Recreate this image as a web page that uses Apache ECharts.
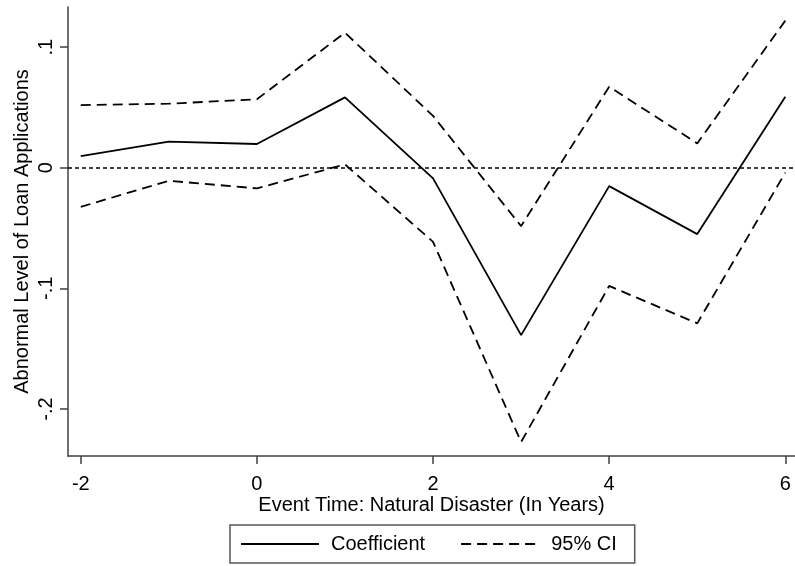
<!DOCTYPE html>
<html>
<head>
<meta charset="utf-8">
<script src="https://cdn.jsdelivr.net/npm/echarts@6/dist/echarts.min.js"></script>
<style>html,body{margin:0;padding:0;background:#fff}#c{width:795px;height:566px}</style>
</head>
<body>
<div id="c"></div>
<script>
var eventTime = [-2, -1, 0, 1, 2, 3, 4, 5, 6];
var coefficient = [0.0097, 0.0216, 0.0197, 0.0584, -0.0088, -0.1388, -0.0152, -0.055, 0.0589];
var upperCI = [0.052, 0.0531, 0.0568, 0.112, 0.043, -0.0484, 0.0672, 0.0202, 0.122];
var lowerCI = [-0.0324, -0.0108, -0.0171, 0.0028, -0.0614, -0.2274, -0.098, -0.129, -0.004];
var xTicks = [-2, 0, 2, 4, 6];
var yTicks = [-0.2, -0.1, 0, 0.1];

function pairs(ys) { return eventTime.map(function (x, i) { return [x, ys[i]]; }); }
function fmtY(v) {
  var r = Math.round(v * 10) / 10;
  if (r === 0) return '0';
  var s = String(r);
  return s.replace('0.', '.');
}
var FONT = 'Liberation Sans, Arial, sans-serif';
var chart = echarts.init(document.getElementById('c'), null, {renderer: 'canvas'});
chart.setOption({
  animation: false,
  backgroundColor: '#fff',
  textStyle: {fontFamily: FONT, color: '#000'},
  grid: {left: 68, right: 0, top: 7, bottom: 110, containLabel: false},
  xAxis: {
    type: 'value', min: -2.145, max: 6.11,
    name: 'Event Time: Natural Disaster (In Years)', nameLocation: 'middle', nameGap: 39,
    nameMoveOverlap: false,
    nameTextStyle: {fontSize: 20, color: '#000', fontFamily: FONT},
    axisLine: {show: true, onZero: false, lineStyle: {color: '#404040', width: 1.5}},
    axisTick: {show: true, customValues: xTicks, length: 8, lineStyle: {color: '#404040', width: 1.5}},
    axisLabel: {customValues: xTicks, margin: 18, fontSize: 20, color: '#000', fontFamily: FONT,
      formatter: function (v) { return String(Math.round(v)); }},
    splitLine: {show: false}
  },
  yAxis: {
    type: 'value', min: -0.239, max: 0.1333,
    name: 'Abnormal Level of Loan Applications', nameLocation: 'middle', nameGap: 36,
    nameMoveOverlap: false,
    nameTextStyle: {fontSize: 20, color: '#000', fontFamily: FONT},
    axisLine: {show: true, onZero: false, lineStyle: {color: '#404040', width: 1.5}},
    axisTick: {show: true, customValues: yTicks, length: 8, lineStyle: {color: '#404040', width: 1.5}},
    axisLabel: {customValues: yTicks, rotate: 90, margin: 12, fontSize: 20, color: '#000', fontFamily: FONT,
      formatter: fmtY},
    splitLine: {show: false}
  },
  legend: {
    left: 230, top: 525, orient: 'horizontal',
    padding: [9, 18, 9, 10], itemGap: 35, itemWidth: 78, itemHeight: 14,
    borderColor: '#555', borderWidth: 1.5, borderRadius: 0,
    itemStyle: {opacity: 0},
    textStyle: {fontSize: 20, color: '#000', fontFamily: FONT, padding: [0, 0, 0, 7]},
    data: ['Coefficient', '95% CI']
  },
  series: [
    {name: 'Coefficient', type: 'line', data: pairs(coefficient), symbol: 'none',
      lineStyle: {color: '#000', width: 1.8, type: 'solid'}, itemStyle: {color: '#000'},
      markLine: {silent: true, symbol: 'none', label: {show: false},
        lineStyle: {color: '#000', width: 1.6, type: [4, 3]}, data: [{yAxis: 0}]}},
    {name: '95% CI', type: 'line', data: pairs(upperCI), symbol: 'none',
      lineStyle: {color: '#000', width: 1.8, type: [10, 6]}, itemStyle: {color: '#000'}},
    {name: '95% CI', type: 'line', data: pairs(lowerCI), symbol: 'none',
      lineStyle: {color: '#000', width: 1.8, type: [10, 6]}, itemStyle: {color: '#000'}}
  ]
});
</script>
</body>
</html>
